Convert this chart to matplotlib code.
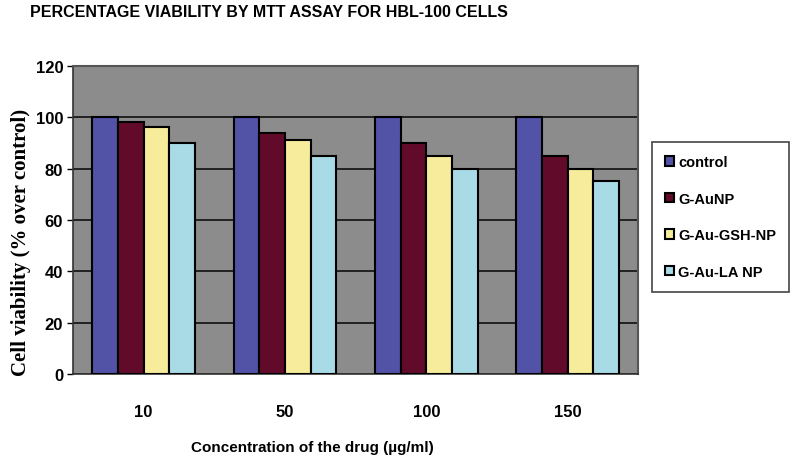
import numpy as np
import matplotlib.pyplot as plt

# Data
concentrations = ['10', '50', '100', '150']
series_names = ['control', 'G-AuNP', 'G-Au-GSH-NP', 'G-Au-LA NP']
control = [100, 100, 100, 100]
g_aunp = [98, 94, 90, 85]
g_au_gsh_np = [96, 91, 85, 80]
g_au_la_np = [90, 85, 80, 75]
colors = ['#5252a6', '#620a2a', '#f6ec9c', '#a9dbe6']

sans = ['Liberation Sans', 'DejaVu Sans']

fig = plt.figure(figsize=(7.93, 4.64), dpi=100)
ax = fig.add_axes([0.092, 0.192, 0.713, 0.664])
ax.set_facecolor('#8c8c8c')

x = np.arange(len(concentrations))
w = 1 / 5.5
values = [control, g_aunp, g_au_gsh_np, g_au_la_np]
for i, (name, vals) in enumerate(zip(series_names, values)):
    ax.bar(x + (i - 1.5) * w, vals, width=w, color=colors[i],
           edgecolor='black', linewidth=1.5, label=name, zorder=3)

ax.set_xlim(-0.5, len(concentrations) - 0.5)
ax.set_ylim(0, 120)
ax.set_yticks(range(0, 121, 20))
ax.yaxis.grid(True, color='#222222', linewidth=1.4, zorder=0)
ax.set_axisbelow(True)

ax.set_xticks(x)
ax.set_xticklabels(concentrations)
ax.tick_params(axis='x', length=0, pad=22)
ax.tick_params(axis='y', length=4, width=1, pad=3)
for lab in ax.get_xticklabels() + ax.get_yticklabels():
    lab.set_family(sans)
    lab.set_fontweight('bold')
    lab.set_fontsize(12)

for s in ['left', 'bottom']:
    ax.spines[s].set_color('#333333')
    ax.spines[s].set_linewidth(1.2)
for s in ['top', 'right']:
    ax.spines[s].set_color('#555555')
    ax.spines[s].set_linewidth(1.5)

fig.text(0.038, 0.972, 'PERCENTAGE VIABILITY BY MTT ASSAY FOR HBL-100 CELLS',
         family=sans, fontweight='heavy', fontsize=11.5, va='center', ha='left')
ax.set_xlabel('Concentration of the drug (µg/ml)', family=sans,
              fontweight='bold', fontsize=11)
ax.xaxis.set_label_coords(0.423, -0.215)
ax.set_ylabel('Cell viability (% over control)', family=['Liberation Serif', 'DejaVu Serif'],
              fontweight='bold', fontsize=15)
ax.yaxis.set_label_coords(-0.075, 0.43)

leg = fig.legend(loc='upper left', bbox_to_anchor=(0.822, 0.692),
                 borderaxespad=0,
                 prop={'family': sans, 'weight': 'bold', 'size': 10.5},
                 fancybox=False, edgecolor='#444444', framealpha=1,
                 handlelength=0.6, handleheight=0.6, handletextpad=0.3,
                 labelspacing=1.55, borderpad=0.9)
leg.get_frame().set_linewidth(1.2)

fig.savefig('out.png', dpi=100)
